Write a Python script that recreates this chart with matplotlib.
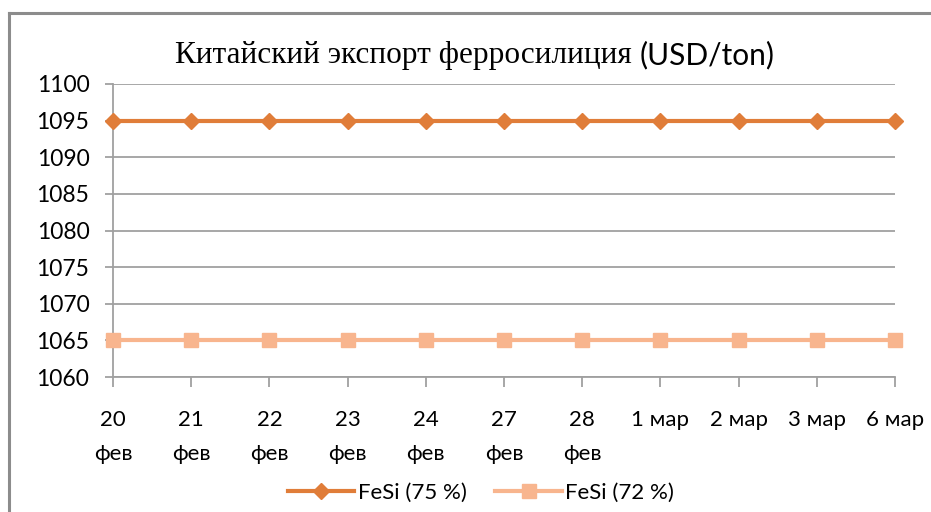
import matplotlib
matplotlib.use("Agg")
import matplotlib.pyplot as plt
from matplotlib.lines import Line2D

# data
dates = ["20\nфев", "21\nфев", "22\nфев", "23\nфев", "24\nфев", "27\nфев",
         "28\nфев", "1 мар", "2 мар", "3 мар", "6 мар"]
fesi75 = [1095, 1095, 1095, 1095, 1095, 1095, 1095, 1095, 1095, 1095, 1095]
fesi72 = [1065, 1065, 1065, 1065, 1065, 1065, 1065, 1065, 1065, 1065, 1065]
yticks = [1060, 1065, 1070, 1075, 1080, 1085, 1090, 1095, 1100]

ORANGE, SALMON, GRID = "#e07d39", "#f8b58e", "#a0a0a0"
SANS = ["Lato", "DejaVu Sans"]

W, H = 931, 512
fig = plt.figure(figsize=(W / 100, H / 100), dpi=100)
ax = fig.add_axes([113 / W, 1 - 377 / H, (895 - 113) / W, (377 - 84) / H])

x = list(range(len(dates)))
ax.plot(x, fesi75, color=ORANGE, lw=3.0, marker="D", ms=8.5,
        label="FeSi (75 %)", zorder=3, clip_on=False)
ax.plot(x, fesi72, color=SALMON, lw=3.0, marker="s", ms=10,
        label="FeSi (72 %)", zorder=3, clip_on=False)

ax.set_xlim(0, len(dates) - 1)
ax.set_ylim(1060, 1100)
ax.set_yticks(yticks)
ax.set_xticks(x)
ax.set_xticklabels(dates, family=SANS, fontsize=16, linespacing=1.85,
                   va="top")
for t in ax.get_yticklabels():
    t.set_family(SANS)
    t.set_fontsize(16.5)
ax.grid(axis="y", color=GRID, lw=1.3)
ax.set_axisbelow(True)
for s in ("top", "right"):
    ax.spines[s].set_visible(False)
for s in ("left", "bottom"):
    ax.spines[s].set_color(GRID)
    ax.spines[s].set_linewidth(1.3)
ax.tick_params(axis="x", length=7, width=1.3, color=GRID, pad=17)
ax.tick_params(axis="y", length=6, width=1.3, color=GRID, pad=11)

# title: Cyrillic part in serif, unit in sans
split = 640 / W
fig.text(split, 1 - 56 / H, "Китайский экспорт ферросилиция ", ha="right",
         va="center", family=["Liberation Serif", "DejaVu Serif"],
         fontsize=22.5)
fig.text(split, 1 - 55 / H, "(USD/ton)", ha="left", va="center",
         family=SANS, fontsize=21.5)

fig.legend(loc="center", bbox_to_anchor=(481 / W, 1 - 493 / H), ncol=2,
           frameon=False, prop={"family": "Lato", "size": 16},
           handlelength=3.0, columnspacing=1.3, handletextpad=0.15)

# cropped outer chart frame (only left and top edges visible)
fig.add_artist(Line2D([9 / W, 9 / W], [0, 1 - 13 / H], color="#8c8c8c",
                      lw=2.2, transform=fig.transFigure))
fig.add_artist(Line2D([9 / W, 1], [1 - 13 / H, 1 - 13 / H], color="#8c8c8c",
                      lw=2.2, transform=fig.transFigure))

fig.savefig("out.png", dpi=100)
